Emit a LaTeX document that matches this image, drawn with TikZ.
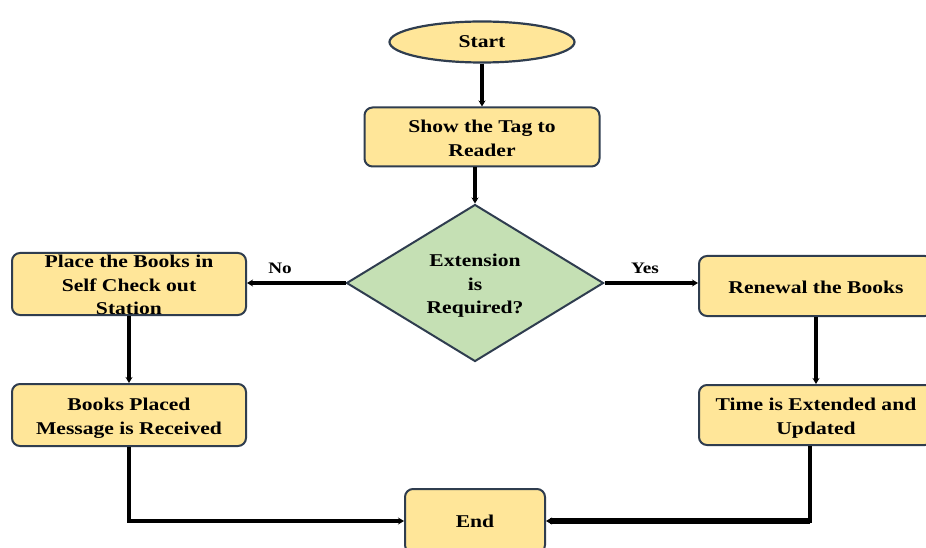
\documentclass[tikz,border=0pt]{standalone}
\usepackage{fontspec}
\setmainfont[FakeStretch=1.2]{Liberation Serif}
\usetikzlibrary{shapes.geometric,arrows.meta}
\definecolor{boxfill}{RGB}{255,230,153}
\definecolor{boxline}{RGB}{47,61,79}
\definecolor{dfill}{RGB}{197,224,180}
\newcommand{\mlines}[1]{\smash{\raisebox{-7pt}{\begin{tabular}{@{}c@{}}#1\end{tabular}}}}
\tikzset{
  procbox/.style={draw=boxline, line width=2pt, fill=boxfill, rounded corners=8pt,
    minimum width=234pt, minimum height=60pt, inner sep=0pt,
    font=\fontsize{18}{23.5}\selectfont\bfseries},
  termshape/.style={draw=boxline, line width=2.2pt, fill=boxfill, ellipse,
    minimum width=185pt, minimum height=41pt, inner sep=0pt,
    font=\fontsize{18}{23.5}\selectfont\bfseries},
  decshape/.style={draw=boxline, line width=2pt, fill=dfill, diamond,
    minimum width=257pt, minimum height=157pt, inner sep=0pt,
    font=\fontsize{18}{23.5}\selectfont\bfseries},
  conn/.style={line width=3.5pt, black, -{Stealth[length=6pt,width=7pt]}},
  plain/.style={line width=3.5pt, black},
  lbl/.style={font=\fontsize{16}{19}\selectfont\bfseries, inner sep=0pt}
}
\begin{document}
\begin{tikzpicture}[x=1pt,y=1pt]
\useasboundingbox (0,0) rectangle (926,547);
\clip (0,0) rectangle (926,547);
\fill[white] (0,0) rectangle (926,547);
\node[termshape] (start) at (482,505) {Start};
\node[procbox, minimum width=235pt, minimum height=59pt] (tag) at (482,410) {\mlines{Show the Tag to\\Reader}};
\node[decshape] (d) at (475,264) {\mlines{Extension\\is\\Required?}};
\node[procbox, minimum height=62pt] (l1) at (129,263) {\mlines{Place the Books in\\Self Check out\\Station}};
\node[procbox, minimum height=62pt] (l2) at (129,132) {\mlines{Books Placed\\Message is Received}};
\node[procbox] (r1) at (816,261) {\mlines{Renewal the Books}};
\node[procbox] (r2) at (816,132) {\mlines{Time is Extended and\\Updated}};
\node[procbox, minimum width=140pt, minimum height=64pt] (e) at (475,26) {End};
\coordinate (rdown) at ([xshift=-6pt]r2.south);
\coordinate (rcorner) at (rdown |- e.east);
\draw[conn] (start) -- (start |- tag.north);
\draw[conn] (tag.south -| d.north) -- (d.north);
\draw[conn] (d.west) -- (d.west -| l1.east);
\draw[conn] (d.east) -- (d.east -| r1.west);
\draw[conn] (l1) -- (l2);
\draw[conn] (r1) -- (r2);
\draw[conn] (l2.south) |- (e.west);
\draw[plain] (rdown) -- ([yshift=-2pt]rcorner);
\draw[conn, line width=5.5pt] (rcorner) -- (e.east);
\node[lbl] (no) at (280,279) {No};
\node[lbl] (yes) at (645,279) {Yes};
\end{tikzpicture}
\end{document}
